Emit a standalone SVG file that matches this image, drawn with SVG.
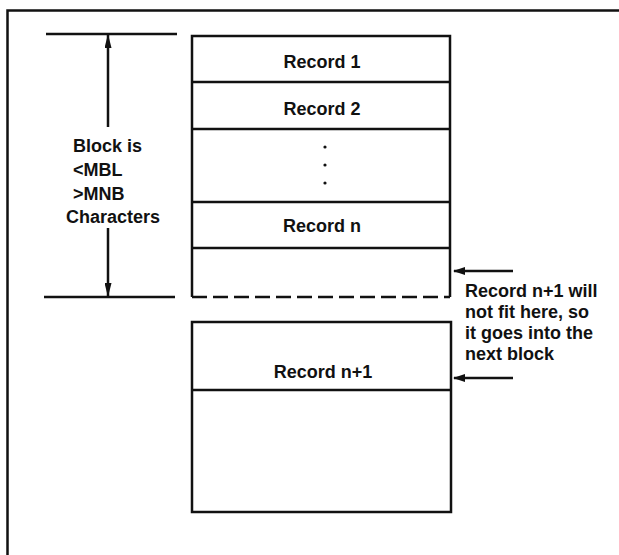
<svg xmlns="http://www.w3.org/2000/svg" width="619" height="555" viewBox="0 0 619 555">
<style>
.ln{stroke:#111;stroke-width:2.5;fill:none}
.bx{stroke:#111;stroke-width:2.5;fill:#fff}
.t{font-family:"Liberation Sans",Arial,sans-serif;font-weight:bold;font-size:18px;fill:#111}
.c{text-anchor:middle}
</style>
<defs>
<marker id="ah" viewBox="0 0 12 8" refX="11" refY="4" markerWidth="12" markerHeight="8" markerUnits="userSpaceOnUse" orient="auto">
<path d="M0,0 L12,4 L0,8 Z" fill="#111"/>
</marker>
<marker id="ah2" viewBox="0 0 14 7" refX="13" refY="3.5" markerWidth="14" markerHeight="7" markerUnits="userSpaceOnUse" orient="auto">
<path d="M0,0 L14,3.5 L0,7 Z" fill="#111"/>
</marker>
</defs>
<rect width="619" height="555" fill="#fff"/>
<g id="frame">
<path class="ln" d="M7.5,555 V10.5 H619"/>
</g>
<g id="block1">
<path class="bx" d="M192,297 V36 H450 V297"/>
<path class="ln" d="M192,297 H450" stroke-dasharray="15 6"/>
<line class="ln" x1="192" y1="82" x2="450" y2="82"/>
<line class="ln" x1="192" y1="129" x2="450" y2="129"/>
<line class="ln" x1="192" y1="202" x2="450" y2="202"/>
<line class="ln" x1="192" y1="248" x2="450" y2="248"/>
<text class="t c" x="322" y="68">Record 1</text>
<text class="t c" x="322" y="115">Record 2</text>
<circle cx="325" cy="147" r="1.6" fill="#111"/>
<circle cx="325" cy="165" r="1.6" fill="#111"/>
<circle cx="325" cy="183" r="1.6" fill="#111"/>
<text class="t c" x="322" y="232">Record  n</text>
</g>
<g id="block2">
<rect class="bx" x="192" y="322" width="259" height="190"/>
<line class="ln" x1="192" y1="390" x2="451" y2="390"/>
<text class="t c" x="323" y="378">Record  n+1</text>
</g>
<g id="dimension">
<line class="ln" x1="46" y1="34" x2="177" y2="34"/>
<line class="ln" x1="44" y1="297" x2="175" y2="297"/>
<text class="t" x="73" y="152">Block  is</text>
<text class="t" x="73" y="176">&lt;MBL</text>
<text class="t" x="73" y="200">&gt;MNB</text>
<text class="t" x="66" y="223">Characters</text>
</g>
<g id="note">
<text class="t" x="465" y="297">Record n+1 will</text>
<text class="t" x="465" y="318">not fit here, so</text>
<text class="t" x="465" y="339">it goes into the</text>
<text class="t" x="465" y="360">next block</text>
</g>
<g id="connectors">
<line class="ln" x1="108" y1="127" x2="108" y2="35" marker-end="url(#ah2)"/>
<line class="ln" x1="108" y1="228" x2="108" y2="296" marker-end="url(#ah2)"/>
<line class="ln" x1="513" y1="271" x2="454" y2="271" marker-end="url(#ah)"/>
<line class="ln" x1="513" y1="378" x2="454" y2="378" marker-end="url(#ah)"/>
</g>
</svg>
